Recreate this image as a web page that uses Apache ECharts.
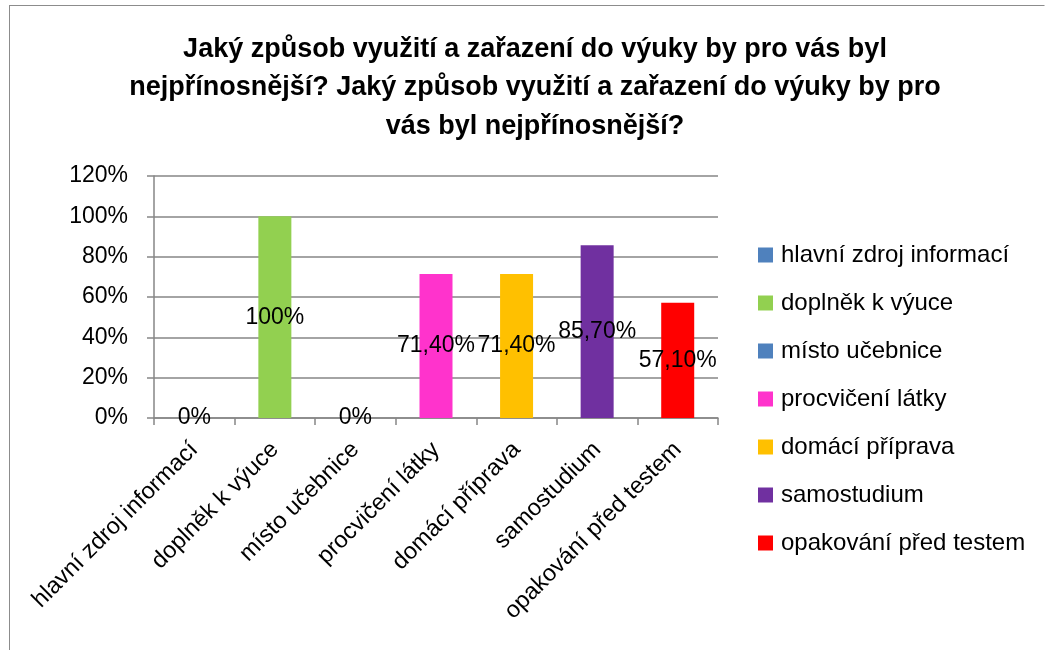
<!DOCTYPE html>
<html>
<head>
<meta charset="utf-8">
<script src="https://cdn.jsdelivr.net/npm/echarts@6/dist/echarts.min.js"></script>
<style>
  html, body { margin: 0; padding: 0; background: #fff; overflow: hidden; }
  #chart { width: 1051px; height: 650px; }
  #frame {
    position: absolute; left: 9px; top: 5px; width: 1034px; height: 700px;
    border: 1.5px solid #8c8c8c; border-right-color: transparent; pointer-events: none;
  }
</style>
</head>
<body>
<div id="chart"></div>
<div id="frame"></div>
<script>
// categories and values (percent)
const categories = [
  'hlavní zdroj informací',
  'doplněk k výuce',
  'místo učebnice',
  'procvičení látky',
  'domácí příprava',
  'samostudium',
  'opakování před testem'
];
const values = [0, 100, 0, 71.4, 71.4, 85.7, 57.1];
const colors = ['#4F81BD', '#92D050', '#4F81BD', '#FF33CC', '#FFC000', '#7030A0', '#FF0000'];
const titleText = 'Jaký způsob využití a zařazení do výuky by pro vás byl\n' +
  'nejpřínosnější? Jaký způsob využití a zařazení do výuky by pro\n' +
  'vás byl nejpřínosnější?';

const font = 'Liberation Sans';
const gridGray = '#868686';

function fmtPct(v) {
  if (Number.isInteger(v)) return v + '%';
  return v.toFixed(2).replace('.', ',') + '%';
}

// one series per category so each gets a legend entry; stacked so they share the slot
const series = categories.map((name, i) => ({
  name: name,
  type: 'bar',
  stack: 'all',
  barWidth: 33,
  itemStyle: { color: colors[i] },
  label: {
    show: true,
    position: 'inside',
    color: '#000',
    fontFamily: font,
    fontSize: 23,
    formatter: p => fmtPct(p.value)
  },
  data: values.map((v, j) => (j === i ? v : null))
}));

const chart = echarts.init(document.getElementById('chart'));
chart.setOption({
  animation: false,
  backgroundColor: '#fff',
  title: {
    text: titleText,
    left: 530,
    top: 25,
    textAlign: 'center',
    textStyle: {
      fontFamily: font,
      fontWeight: 'bold',
      fontSize: 27,
      lineHeight: 38.5,
      color: '#000'
    }
  },
  legend: {
    orient: 'vertical',
    left: 758,
    top: 243,
    padding: 0,
    icon: 'rect',
    itemWidth: 15,
    itemHeight: 15,
    itemGap: 24,
    textStyle: { fontFamily: font, fontSize: 24, color: '#000', lineHeight: 22, padding: [0, 0, 0, 3] },
    data: categories
  },
  grid: { left: 154, right: 333, top: 176, bottom: 232 },
  xAxis: {
    type: 'category',
    data: categories,
    axisLine: { lineStyle: { color: gridGray, width: 1.5 } },
    axisTick: { show: true, length: 7, lineStyle: { color: gridGray, width: 1.5 } },
    axisLabel: {
      rotate: 45,
      margin: 28,
      interval: 0,
      color: '#000',
      fontFamily: font,
      fontSize: 23.5
    }
  },
  yAxis: {
    type: 'value',
    min: 0,
    max: 120,
    interval: 20,
    axisLine: { show: true, lineStyle: { color: gridGray, width: 1.5 } },
    axisTick: { show: true, length: 7, lineStyle: { color: gridGray, width: 1.5 } },
    splitLine: { lineStyle: { color: gridGray, width: 1.5 } },
    axisLabel: {
      formatter: '{value}%',
      margin: 26,
      color: '#000',
      fontFamily: font,
      fontSize: 23
    }
  },
  series: series
});
</script>
</body>
</html>
